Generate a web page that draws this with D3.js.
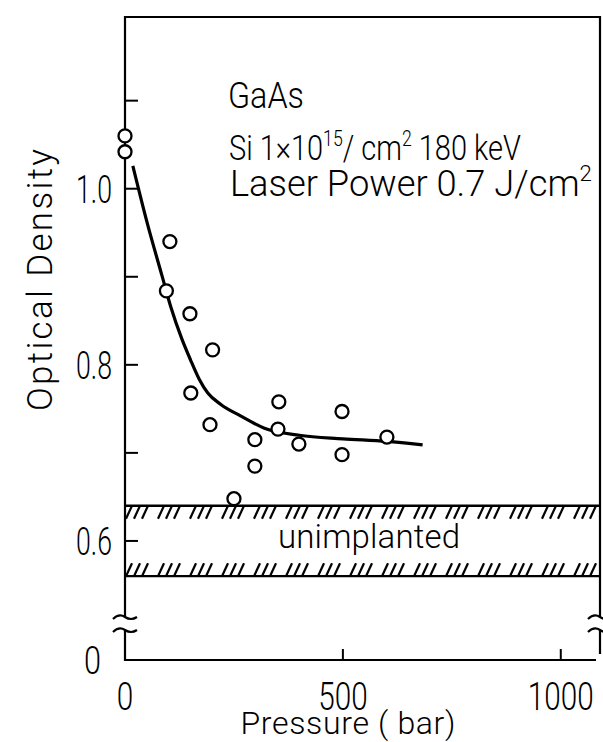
<!DOCTYPE html>
<html>
<head>
<meta charset="utf-8">
<script src="https://cdn.jsdelivr.net/npm/d3@7"></script>
<style>
  body { margin: 0; background: #fff; }
  svg text { font-family: Roboto, "Liberation Sans", sans-serif; font-weight: 300; fill: #000; }
</style>
</head>
<body>
<svg id="chart" width="603" height="742"></svg>
<script>
'use strict';

// measured points (pressure in bar, optical density)
const pressure = [0, 0, 95, 103, 149, 151, 195, 201, 250, 298, 298, 351, 353, 399, 498, 498, 601];
const density = [1.060, 1.042, 0.884, 0.940, 0.858, 0.768, 0.732, 0.817, 0.648, 0.715, 0.685, 0.727, 0.758, 0.710, 0.747, 0.698, 0.718];

// hand drawn trend line
const fitPressure = [18, 50, 85, 105, 130, 150, 170, 190, 220, 265, 320, 400, 500, 600, 683];
const fitDensity = [1.026, 0.963, 0.901, 0.866, 0.830, 0.806, 0.784, 0.768, 0.755, 0.742, 0.728, 0.720, 0.716, 0.713, 0.709];

// range of the unimplanted sample
const unimplanted = [0.56, 0.64];

const xTicks = [0, 500, 1000];
const yTicks = [0.6, 0.7, 0.8, 0.9, 1.0, 1.1];
const yLabels = [0, 0.6, 0.8, 1.0];

const svg = d3.select('#chart');
const mLeft = 125, mRight = 600, mTop = 17, mBottom = 660;

const x = d3.scaleLinear().domain([0, 1090]).range([mLeft, mRight]);
// broken axis: 0 sits just under the break, the rest is linear
const y = d3.scaleLinear().domain([0, 0.5, 1.195]).range([mBottom, 629, mTop]);

const ink = '#000';
const breakTop = 617, breakBot = 630;

// the lettering on the original is tall and narrow: squeeze a text
// horizontally (about its x anchor) to a given width
const squeeze = function (sel, width) {
  sel.each(function (d, i) {
    const t = d3.select(this);
    const w = this.getComputedTextLength();
    const ax = +t.attr('x');
    const target = typeof width === 'function' ? width(d, i) : width;
    t.attr('transform', `translate(${ax},0) scale(${target / w},1) translate(${-ax},0)`);
  });
};

// frame: left axis, top, right, bottom, with the axis breaks
const frame = svg.append('g').attr('fill', 'none').attr('stroke', ink).attr('stroke-width', 2.2);
frame.append('path').attr('d', `M${mLeft},${breakTop}V${mTop}H${mRight}V${breakTop}`);
frame.append('path').attr('d', `M${mLeft},${breakBot}V${mBottom}H${mRight - 4}`);
frame.append('path').attr('d', `M${mRight},${breakBot}V${mBottom - 6}`);
[mLeft, mRight].forEach((bx) => {
  frame.append('path').attr('d', `M${bx - 12},${breakTop + 2}q6,-6 12,-2t12,0`);
  frame.append('path').attr('d', `M${bx - 12},${breakBot + 2}q6,-6 12,-2t12,0`);
});

// y ticks point inward
svg.append('g')
  .selectAll('line')
  .data(yTicks)
  .join('line')
  .attr('x1', mLeft).attr('x2', mLeft + 13)
  .attr('y1', (d) => y(d)).attr('y2', (d) => y(d))
  .attr('stroke', ink).attr('stroke-width', 2);

svg.append('g')
  .selectAll('line')
  .data(xTicks.filter((d) => d > 0))
  .join('line')
  .attr('x1', (d) => x(d)).attr('x2', (d) => x(d))
  .attr('y1', mBottom).attr('y2', mBottom - 11)
  .attr('stroke', ink).attr('stroke-width', 2);

svg.append('g')
  .selectAll('text')
  .data(yLabels)
  .join('text')
  .attr('x', (d) => (d === 0 ? mLeft - 24 : mLeft - 13))
  .attr('y', (d) => y(d) + 14)
  .attr('text-anchor', 'end')
  .attr('font-size', '39px')
  .text((d) => (d === 0 ? '0' : d.toFixed(1)))
  .call(squeeze, (d) => (d === 0 ? 17 : 36));

svg.append('g')
  .selectAll('text')
  .data(xTicks)
  .join('text')
  .attr('x', (d) => x(d))
  .attr('y', mBottom + 50)
  .attr('text-anchor', 'middle')
  .attr('font-size', '39px')
  .text((d) => d)
  .call(squeeze, (d) => String(d).length * 16.5);

svg.append('text')
  .attr('transform', 'translate(52,280) rotate(-90)')
  .attr('text-anchor', 'middle')
  .attr('font-size', '35px')
  .attr('textLength', 262)
  .attr('lengthAdjust', 'spacing')
  .text('Optical  Density');

svg.append('text')
  .attr('x', 348).attr('y', 734)
  .attr('text-anchor', 'middle')
  .attr('font-size', '32px')
  .attr('textLength', 215)
  .attr('lengthAdjust', 'spacing')
  .text('Pressure ( bar)');

// unimplanted band: two hatched lines
const hatch = svg.append('g').attr('stroke', ink).attr('fill', 'none');
const hatchX = d3.range(mLeft + 4, mRight - 2, 8).filter((d, i) => i % 4 !== 3);
unimplanted.forEach((v, k) => {
  const yy = y(v);
  const dir = k === 1 ? 1 : -1;   // upper line hatched below, lower line hatched above
  hatch.append('line')
    .attr('x1', mLeft).attr('x2', mRight)
    .attr('y1', yy).attr('y2', yy)
    .attr('stroke-width', 2.4);
  hatch.append('g')
    .selectAll('line')
    .data(hatchX)
    .join('line')
    .attr('x1', (d) => d + 3)
    .attr('x2', (d) => d - 3)
    .attr('y1', dir > 0 ? yy : yy - 13)
    .attr('y2', dir > 0 ? yy + 13 : yy)
    .attr('stroke-width', 2.2);
});
svg.append('text')
  .attr('x', x(560)).attr('y', y(0.6) + 7)
  .attr('text-anchor', 'middle')
  .attr('font-size', '33px')
  .attr('textLength', 182)
  .attr('lengthAdjust', 'spacing')
  .text('unimplanted');

// trend line
const line = d3.line()
  .x((d, i) => x(fitPressure[i]))
  .y((d) => y(d))
  .curve(d3.curveMonotoneX);
svg.append('path')
  .datum(fitDensity)
  .attr('d', line)
  .attr('fill', 'none')
  .attr('stroke', ink)
  .attr('stroke-width', 3.2);

// open circles
svg.append('g')
  .selectAll('circle')
  .data(pressure)
  .join('circle')
  .attr('cx', (d) => x(d))
  .attr('cy', (d, i) => y(density[i]))
  .attr('r', 6.5)
  .attr('fill', '#fff')
  .attr('stroke', ink)
  .attr('stroke-width', 2.3);

// annotation
const note = svg.append('g').attr('font-size', '36px');
note.append('text').attr('x', 228).attr('y', 108)
  .text('GaAs')
  .call(squeeze, 76);
const si = note.append('text').attr('x', 229).attr('y', 160);
si.append('tspan').text('Si  1×10');
si.append('tspan').attr('dy', -14).attr('font-size', '22px').text('15');
si.append('tspan').attr('dy', 14).text('/ cm');
si.append('tspan').attr('dy', -14).attr('font-size', '22px').text('2');
si.append('tspan').attr('dy', 14).text('  180 keV');
si.call(squeeze, 292);
const lp = note.append('text').attr('x', 230).attr('y', 196);
lp.append('tspan').text('Laser Power   0.7 J/cm');
lp.append('tspan').attr('dy', -15).attr('font-size', '22px').text('2');
lp.call(squeeze, 362);
</script>
</body>
</html>
